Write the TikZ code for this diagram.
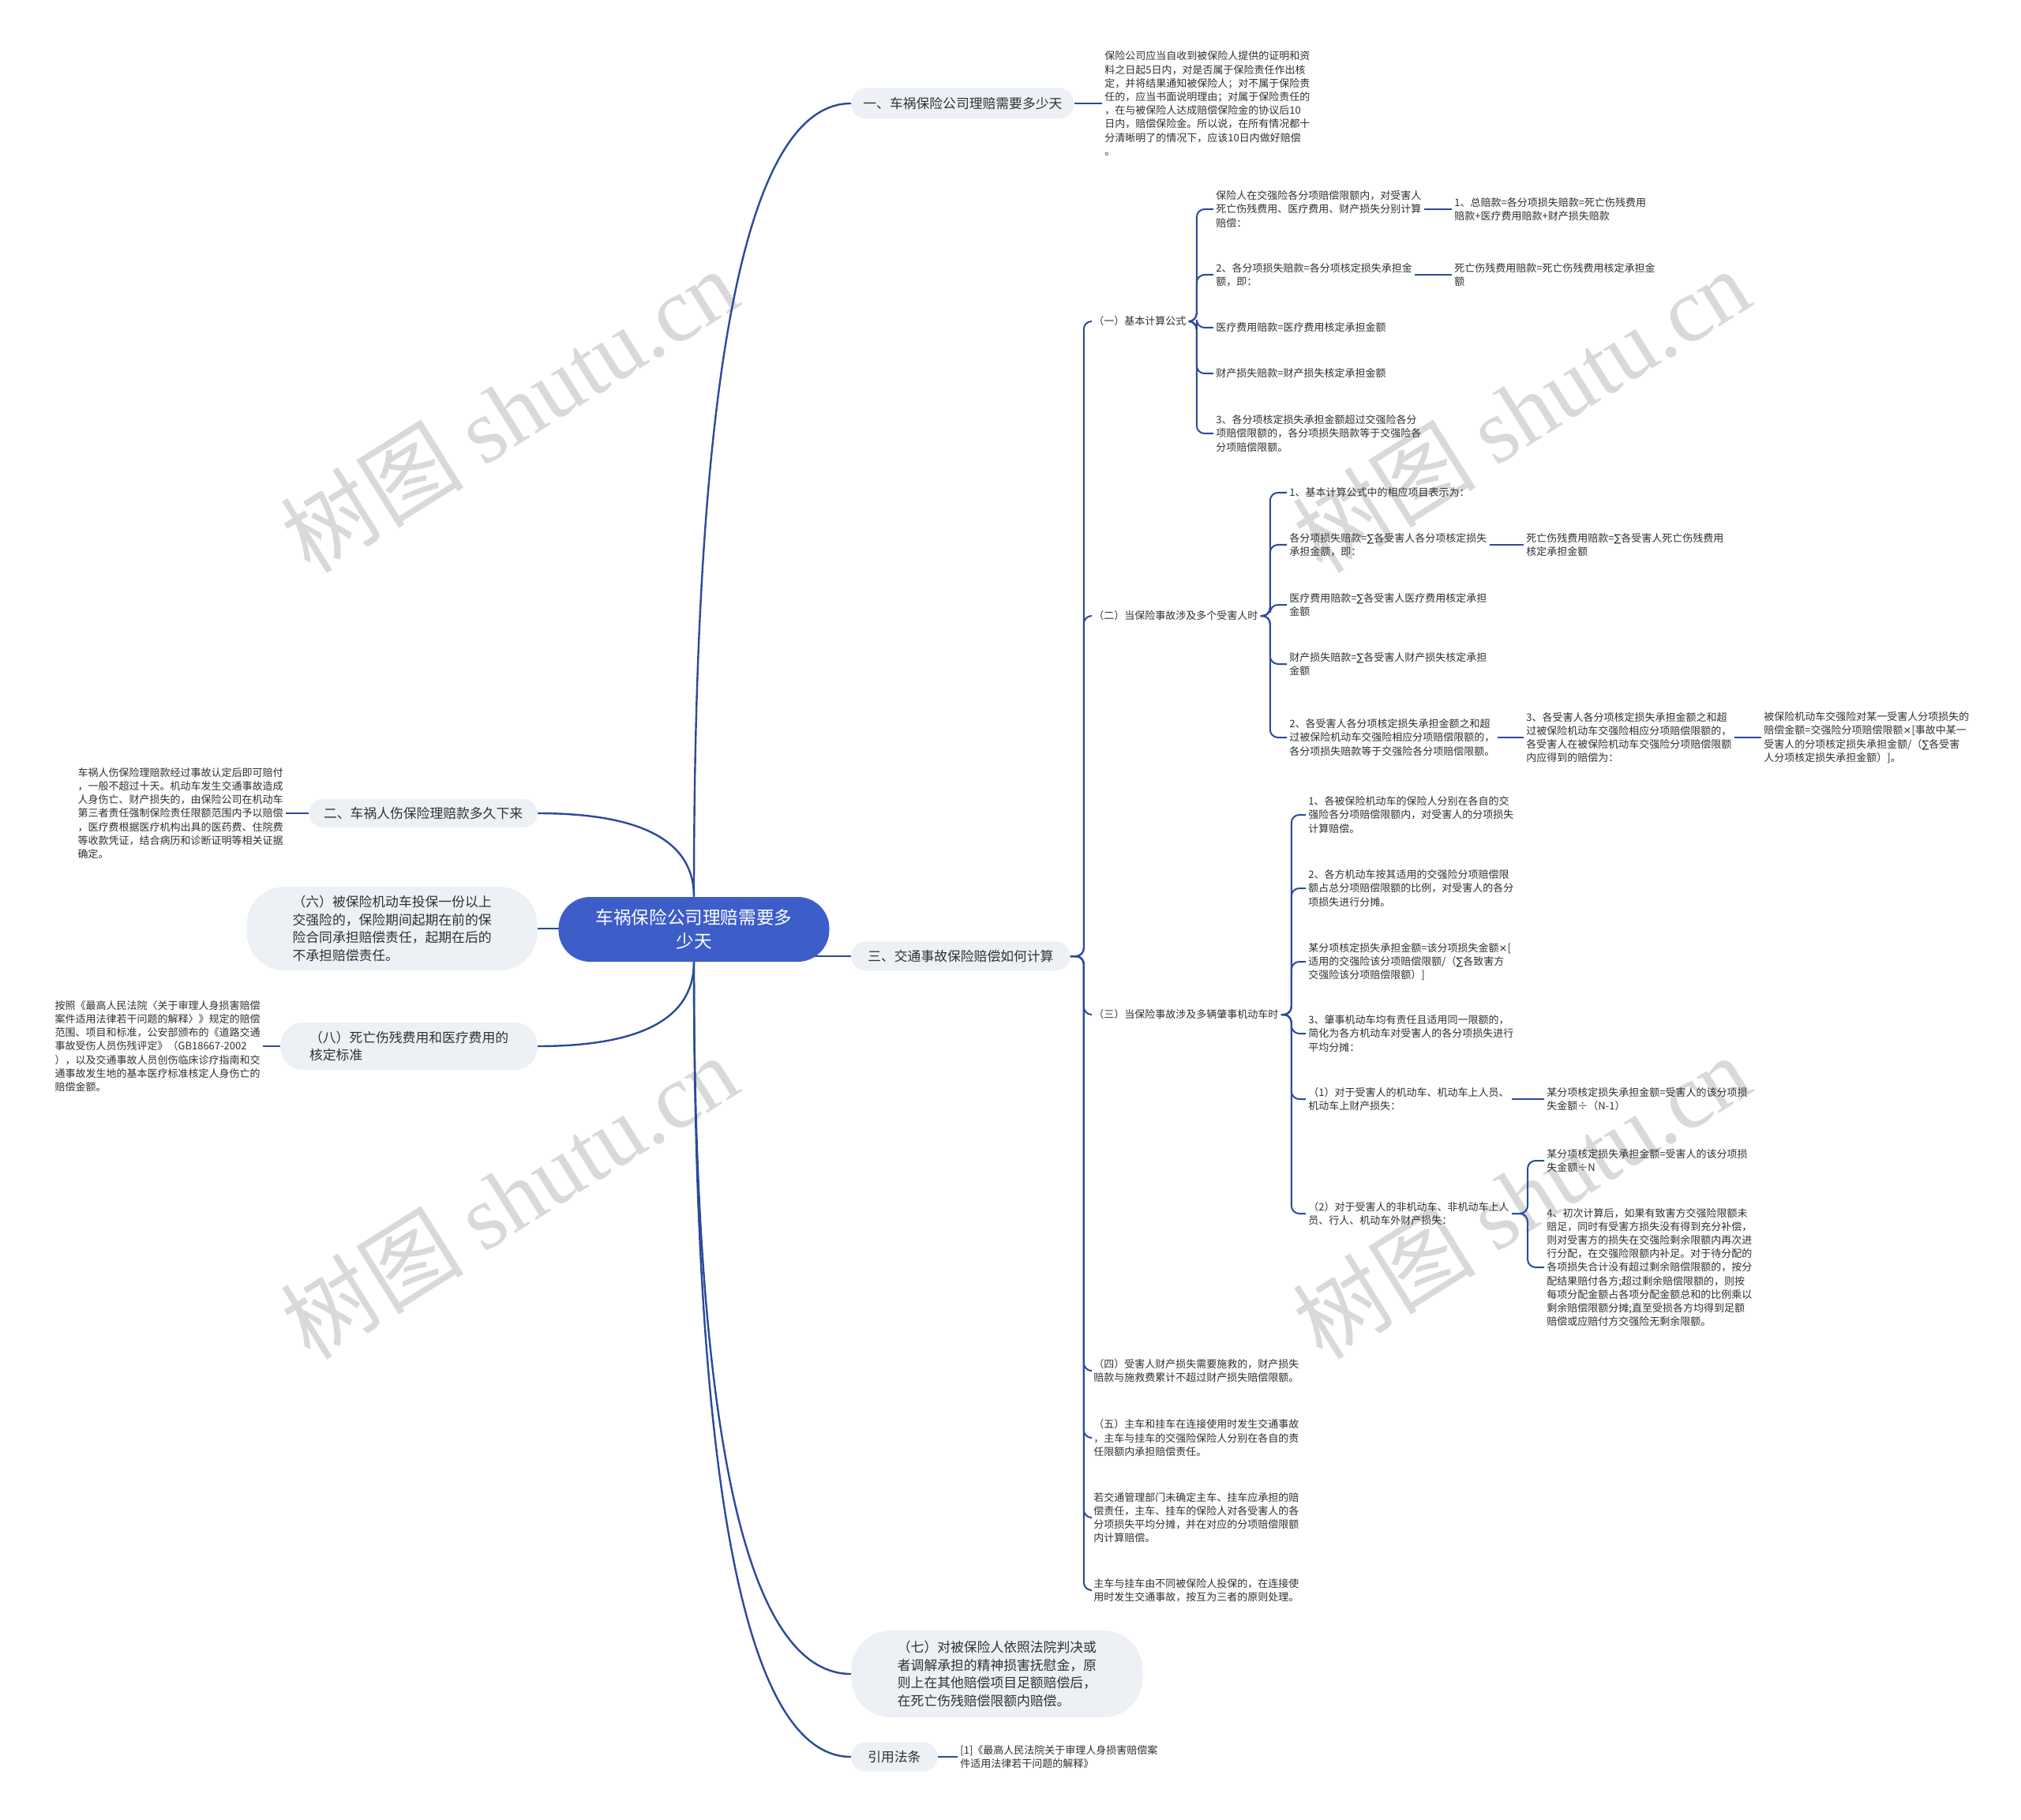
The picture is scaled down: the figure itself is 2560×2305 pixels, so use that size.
\documentclass[tikz,border=0pt]{standalone}
\usepackage{fontspec}
\setmainfont{Noto Sans CJK SC}
\newfontfamily\wmserif{Liberation Serif}
\newfontfamily\symf{DejaVu Sans}
\newcommand\msum{{\symf ∑}}
\newcommand\mtimes{{\symf ×}}
\usetikzlibrary{calc}
\definecolor{linec}{HTML}{2A4A9C}
\definecolor{boxc}{HTML}{EDF0F5}
\definecolor{rootc}{HTML}{3D5DC9}
\definecolor{txtc}{HTML}{303030}
\definecolor{wmc}{HTML}{D9D9D9}
\pgfdeclarelayer{wm}
\pgfdeclarelayer{bg}
\pgfsetlayers{wm,bg,main}
\tikzset{
  conn/.style={draw=linec, line width=1pt, rounded corners=5pt},
  rconn/.style={draw=linec, line width=1.2pt},
  leaf/.style={font=\fontsize{6.5pt}{8.6pt}\selectfont, text=txtc, align=left, inner xsep=1.5pt, inner ysep=1pt},
  lvl/.style={fill=boxc, font=\fontsize{8.4pt}{11.3pt}\selectfont, text=txtc, align=left, inner sep=0pt},
  rootbox/.style={fill=rootc, rounded corners=20pt, font=\fontsize{11.3pt}{15pt}\selectfont, text=white, align=center, inner sep=0pt, minimum width=171.5pt, minimum height=41pt},
  wmark/.style={text=wmc, font=\fontsize{58pt}{58pt}\selectfont, rotate=32, inner sep=0pt},
}
\newcommand\mmcurve[2]{\draw[rconn] (#1) .. controls ($(#1)!0.667!(#1 |- #2)$) and ($(#2)!0.667!(#1 |- #2)$) .. (#2);}
\newcommand\mmbrk[3]{\draw[conn] (#1.east) -- ++(#3,0) |- (#2.west);}
\begin{document}
\begin{tikzpicture}[x=0.5pt,y=-0.5pt]
\useasboundingbox (0,0) rectangle (2560,2305);
\begin{pgfonlayer}{wm}
\fill[white] (0,0) rectangle (2560,2305);
\node[wmark] (wm1) at (645,519) {树图 {\wmserif shutu.cn}};
\node[wmark] (wm2) at (1927,519) {树图 {\wmserif shutu.cn}};
\node[wmark] (wm3) at (645,1515) {树图 {\wmserif shutu.cn}};
\node[wmark] (wm4) at (1927,1515) {树图 {\wmserif shutu.cn}};
\end{pgfonlayer}

% root and level-1 nodes
\node[rootbox] (root) at (879,1177) {车祸保险公司理赔需要多\\少天};
\node[lvl, anchor=west, minimum width=141pt, minimum height=19.5pt, rounded corners=9.5pt, align=center] (n1) at (1078,131) {一、车祸保险公司理赔需要多少天};
\node[lvl, anchor=east, minimum width=144.5pt, minimum height=18pt, rounded corners=9pt, align=center] (n2) at (681,1030) {二、车祸人伤保险理赔款多久下来};
\node[lvl, anchor=east, minimum width=184pt, minimum height=53pt, rounded corners=24pt] (n6) at (681,1176) {（六）被保险机动车投保一份以上\\交强险的，保险期间起期在前的保\\险合同承担赔偿责任，起期在后的\\不承担赔偿责任。};
\node[lvl, anchor=east, minimum width=162.5pt, minimum height=30pt, rounded corners=14pt] (n8) at (681,1325) {（八）死亡伤残费用和医疗费用的\\核定标准\hphantom{费用和医疗费用的}};
\node[lvl, anchor=west, minimum width=138.5pt, minimum height=18.5pt, rounded corners=9pt, align=center] (n3) at (1078,1211) {三、交通事故保险赔偿如何计算};
\node[lvl, anchor=west, minimum width=184.5pt, minimum height=55pt, rounded corners=25pt] (n7) at (1078,2120) {（七）对被保险人依照法院判决或\\者调解承担的精神损害抚慰金，原\\则上在其他赔偿项目足额赔偿后，\\在死亡伤残赔偿限额内赔偿。};
\node[lvl, anchor=west, minimum width=54.5pt, minimum height=18.5pt, rounded corners=9pt, align=center] (nref) at (1078,2225) {引用法条};

% leaf texts of level 1
\node[leaf, anchor=west] (t1) at (1396,131) {保险公司应当自收到被保险人提供的证明和资\\料之日起5日内，对是否属于保险责任作出核\\定，并将结果通知被保险人；对不属于保险责\\任的，应当书面说明理由；对属于保险责任的\\，在与被保险人达成赔偿保险金的协议后10\\日内，赔偿保险金。所以说，在所有情况都十\\分清晰明了的情况下，应该10日内做好赔偿\\。};
\node[leaf, anchor=east] (t2) at (362,1030) {车祸人伤保险理赔款经过事故认定后即可赔付\\，一般不超过十天。机动车发生交通事故造成\\人身伤亡、财产损失的，由保险公司在机动车\\第三者责任强制保险责任限额范围内予以赔偿\\，医疗费根据医疗机构出具的医药费、住院费\\等收款凭证，结合病历和诊断证明等相关证据\\确定。};
\node[leaf, anchor=east] (t8) at (333,1325) {按照《最高人民法院〈关于审理人身损害赔偿\\案件适用法律若干问题的解释〉》规定的赔偿\\范围、项目和标准，公安部颁布的《道路交通\\事故受伤人员伤残评定》（GB18667-2002\\），以及交通事故人员创伤临床诊疗指南和交\\通事故发生地的基本医疗标准核定人身伤亡的\\赔偿金额。};
\node[leaf, anchor=west] (tref) at (1213,2225) {[1]《最高人民法院关于审理人身损害赔偿案\\件适用法律若干问题的解释》};

% branch three
\node[leaf, anchor=west] (s1) at (1382,407) {（一）基本计算公式};
\node[leaf, anchor=west] (s1a) at (1537,265) {保险人在交强险各分项赔偿限额内，对受害人\\死亡伤残费用、医疗费用、财产损失分别计算\\赔偿：};
\node[leaf, anchor=west] (s1a1) at (1839,265) {1、总赔款=各分项损失赔款=死亡伤残费用\\赔款+医疗费用赔款+财产损失赔款};
\node[leaf, anchor=west] (s1b) at (1537,348) {2、各分项损失赔款=各分项核定损失承担金\\额，即：};
\node[leaf, anchor=west] (s1b1) at (1839,348) {死亡伤残费用赔款=死亡伤残费用核定承担金\\额};
\node[leaf, anchor=west] (s1c) at (1537,415) {医疗费用赔款=医疗费用核定承担金额};
\node[leaf, anchor=west] (s1d) at (1537,473) {财产损失赔款=财产损失核定承担金额};
\node[leaf, anchor=west] (s1e) at (1537,549) {3、各分项核定损失承担金额超过交强险各分\\项赔偿限额的，各分项损失赔款等于交强险各\\分项赔偿限额。};

\node[leaf, anchor=west] (s2) at (1382,780) {（二）当保险事故涉及多个受害人时};
\node[leaf, anchor=west] (s2a) at (1630,624) {1、基本计算公式中的相应项目表示为：};
\node[leaf, anchor=west] (s2b) at (1630,690) {各分项损失赔款=\msum 各受害人各分项核定损失\\承担金额，即：};
\node[leaf, anchor=west] (s2b1) at (1930,690) {死亡伤残费用赔款=\msum 各受害人死亡伤残费用\\核定承担金额};
\node[leaf, anchor=west] (s2c) at (1630,766) {医疗费用赔款=\msum 各受害人医疗费用核定承担\\金额};
\node[leaf, anchor=west] (s2d) at (1630,841) {财产损失赔款=\msum 各受害人财产损失核定承担\\金额};
\node[leaf, anchor=west] (s2e) at (1630,934) {2、各受害人各分项核定损失承担金额之和超\\过被保险机动车交强险相应分项赔偿限额的，\\各分项损失赔款等于交强险各分项赔偿限额。};
\node[leaf, anchor=west] (s2e1) at (1930,934) {3、各受害人各分项核定损失承担金额之和超\\过被保险机动车交强险相应分项赔偿限额的，\\各受害人在被保险机动车交强险分项赔偿限额\\内应得到的赔偿为：};
\node[leaf, anchor=west] (s2e2) at (2231,934) {被保险机动车交强险对某一受害人分项损失的\\赔偿金额=交强险分项赔偿限额\mtimes[事故中某一\\受害人的分项核定损失承担金额/（\msum 各受害\\人分项核定损失承担金额）]。};

\node[leaf, anchor=west] (s3) at (1382,1285) {（三）当保险事故涉及多辆肇事机动车时};
\node[leaf, anchor=west] (s3a) at (1654,1032) {1、各被保险机动车的保险人分别在各自的交\\强险各分项赔偿限额内，对受害人的分项损失\\计算赔偿。};
\node[leaf, anchor=west] (s3b) at (1654,1125) {2、各方机动车按其适用的交强险分项赔偿限\\额占总分项赔偿限额的比例，对受害人的各分\\项损失进行分摊。};
\node[leaf, anchor=west] (s3c) at (1654,1218) {某分项核定损失承担金额=该分项损失金额\mtimes[\\适用的交强险该分项赔偿限额/（\msum 各致害方\\交强险该分项赔偿限额）]};
\node[leaf, anchor=west] (s3d) at (1654,1309) {3、肇事机动车均有责任且适用同一限额的，\\简化为各方机动车对受害人的各分项损失进行\\平均分摊：};
\node[leaf, anchor=west] (s3e) at (1654,1392) {（1）对于受害人的机动车、机动车上人员、\\机动车上财产损失：};
\node[leaf, anchor=west] (s3e1) at (1956,1392) {某分项核定损失承担金额=受害人的该分项损\\失金额÷（N-1）};
\node[leaf, anchor=west] (s3f) at (1654,1537) {（2）对于受害人的非机动车、非机动车上人\\员、行人、机动车外财产损失：};
\node[leaf, anchor=west] (s3f1) at (1956,1470) {某分项核定损失承担金额=受害人的该分项损\\失金额÷N};
\node[leaf, anchor=west] (s3f2) at (1956,1605) {4、初次计算后，如果有致害方交强险限额未\\赔足，同时有受害方损失没有得到充分补偿，\\则对受害方的损失在交强险剩余限额内再次进\\行分配，在交强险限额内补足。对于待分配的\\各项损失合计没有超过剩余赔偿限额的，按分\\配结果赔付各方;超过剩余赔偿限额的，则按\\每项分配金额占各项分配金额总和的比例乘以\\剩余赔偿限额分摊;直至受损各方均得到足额\\赔偿或应赔付方交强险无剩余限额。};

\node[leaf, anchor=west] (s4) at (1382,1736) {（四）受害人财产损失需要施救的，财产损失\\赔款与施救费累计不超过财产损失赔偿限额。};
\node[leaf, anchor=west] (s5) at (1382,1821) {（五）主车和挂车在连接使用时发生交通事故\\，主车与挂车的交强险保险人分别在各自的责\\任限额内承担赔偿责任。};
\node[leaf, anchor=west] (s6) at (1382,1922) {若交通管理部门未确定主车、挂车应承担的赔\\偿责任，主车、挂车的保险人对各受害人的各\\分项损失平均分摊，并在对应的分项赔偿限额\\内计算赔偿。};
\node[leaf, anchor=west] (s7) at (1382,2014) {主车与挂车由不同被保险人投保的，在连接使\\用时发生交通事故，按互为三者的原则处理。};

% connectors
\begin{pgfonlayer}{bg}
\mmcurve{root.north}{n1.west}
\mmcurve{root.north}{n2.east}
\mmcurve{root.south}{n8.east}
\mmcurve{root.south}{n7.west}
\mmcurve{root.south}{nref.west}
\draw[rconn] (root.center |- n6.east) -- (n6.east);
\draw[rconn] (root.center |- n3.west) -- (n3.west);

\draw[conn] (n1.east) -- (t1.west);
\draw[conn] (n2.west) -- (t2.east);
\draw[conn] (n8.west) -- (t8.east);
\draw[conn] (nref.east) -- (tref.west);

\mmbrk{n3}{s1}{17}
\mmbrk{n3}{s2}{17}
\mmbrk{n3}{s3}{17}
\mmbrk{n3}{s4}{17}
\mmbrk{n3}{s5}{17}
\mmbrk{n3}{s6}{17}
\mmbrk{n3}{s7}{17}

\mmbrk{s1}{s1a}{10}
\mmbrk{s1}{s1b}{10}
\mmbrk{s1}{s1c}{10}
\mmbrk{s1}{s1d}{10}
\mmbrk{s1}{s1e}{10}
\draw[conn] (s1a.east) -- (s1a1.west);
\draw[conn] (s1b.east) -- (s1b1.west);

\mmbrk{s2}{s2a}{12}
\mmbrk{s2}{s2b}{12}
\mmbrk{s2}{s2c}{12}
\mmbrk{s2}{s2d}{12}
\mmbrk{s2}{s2e}{12}
\draw[conn] (s2b.east) -- (s2b1.west);
\draw[conn] (s2e.east) -- (s2e1.west);
\draw[conn] (s2e1.east) -- (s2e2.west);

\mmbrk{s3}{s3a}{13}
\mmbrk{s3}{s3b}{13}
\mmbrk{s3}{s3c}{13}
\mmbrk{s3}{s3d}{13}
\mmbrk{s3}{s3e}{13}
\mmbrk{s3}{s3f}{13}
\draw[conn] (s3e.east) -- (s3e1.west);
\mmbrk{s3f}{s3f1}{20}
\mmbrk{s3f}{s3f2}{20}
\end{pgfonlayer}
\end{tikzpicture}
\end{document}
